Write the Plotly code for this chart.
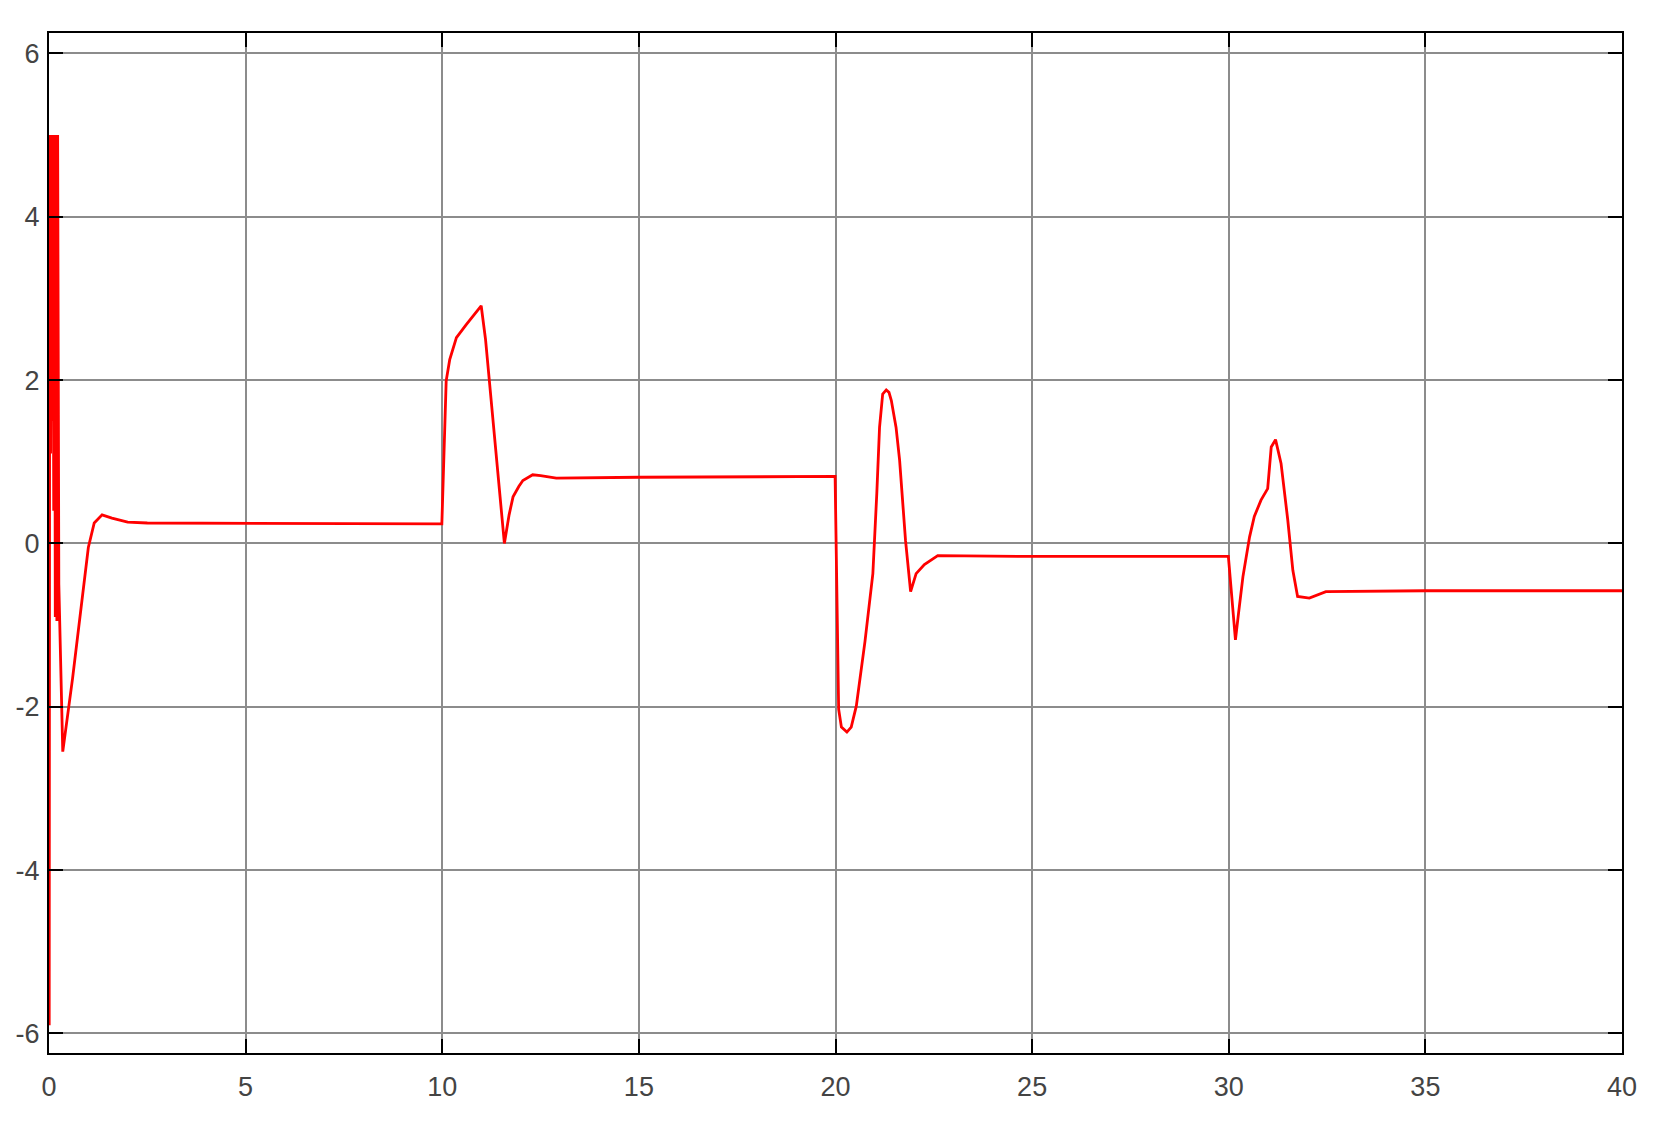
import plotly.graph_objects as go

# time (s) and signal values
t = [0.0, 0.005, 0.02, 0.04, 0.06, 0.08, 0.10, 0.12, 0.14, 0.16, 0.18, 0.20, 0.22, 0.235, 0.25,
     0.35, 0.6, 1.0, 1.15, 1.35, 1.6, 2.0, 2.5,
     9.99, 10.05, 10.1, 10.19, 10.36, 10.61, 10.8, 10.99, 11.1, 11.2, 11.4, 11.58, 11.7, 11.8,
     11.95, 12.05, 12.3, 12.5, 12.9, 15.0,
     19.99, 20.04, 20.08, 20.15, 20.29, 20.4, 20.53, 20.75, 20.95, 21.05, 21.12, 21.2, 21.29,
     21.36, 21.42, 21.54, 21.63, 21.78, 21.91, 22.05, 22.26, 22.6, 25.0,
     29.99, 30.08, 30.17, 30.25, 30.36, 30.53, 30.65, 30.82, 30.99, 31.08, 31.19, 31.33, 31.5,
     31.63, 31.75, 32.05, 32.47, 35.0, 40.0]
y = [0.0, -5.9, 5.0, 1.1, 5.0, 1.5, 5.0, 0.4, 5.0, -0.9, 5.0, -0.95, 5.0, -0.45, -0.5,
     -2.55, -1.65, -0.05, 0.25, 0.35, 0.31, 0.26, 0.25,
     0.24, 1.3, 1.99, 2.25, 2.52, 2.68, 2.8, 2.91, 2.5, 1.99, 0.95, 0.0, 0.35, 0.57,
     0.7, 0.77, 0.84, 0.83, 0.8, 0.81,
     0.82, -0.5, -2.03, -2.25, -2.31, -2.25, -1.99, -1.2, -0.37, 0.61, 1.42, 1.83, 1.88,
     1.85, 1.75, 1.42, 1.02, 0.04, -0.59, -0.37, -0.26, -0.15, -0.16,
     -0.16, -0.7, -1.18, -0.85, -0.41, 0.08, 0.33, 0.53, 0.67, 1.18, 1.27, 0.98, 0.29,
     -0.33, -0.65, -0.67, -0.59, -0.58, -0.58]

x_ticks = [0, 5, 10, 15, 20, 25, 30, 35, 40]
y_ticks = [-6, -4, -2, 0, 2, 4, 6]
y_labels = ['-6', '-4', '-2', '0', '2', '4', '6']

fig = go.Figure()
fig.add_trace(go.Scatter(x=t, y=y, mode='lines',
                         line=dict(color='#ff0000', width=2.8), showlegend=False))

axis_style = dict(showline=True, mirror='ticks', linecolor='black', linewidth=2,
                  showgrid=True, gridcolor='#8c8c8c', gridwidth=1.5, zeroline=False,
                  ticks='inside', ticklen=14, tickwidth=2, tickcolor='black', automargin=False,
                  tickfont=dict(family='Liberation Sans Narrow, Liberation Sans, Arial',
                                size=27, color='#444444'))

fig.update_xaxes(range=[0, 40], tickvals=x_ticks, ticklabelstandoff=9, **axis_style)
fig.update_yaxes(range=[-6.24, 6.25], tickvals=y_ticks, ticktext=y_labels,
                 ticklabelstandoff=2, **axis_style)

# page body adds an 8px offset, so margins are shifted to compensate
fig.update_layout(width=1669, height=1128, plot_bgcolor='white', paper_bgcolor='white',
                  margin=dict(l=41, r=55, t=25, b=83))

fig.write_html("out.html")
